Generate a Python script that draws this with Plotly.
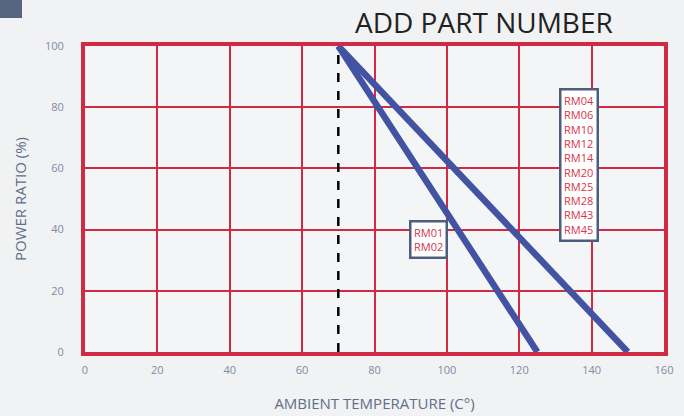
import plotly.graph_objects as go

# Data
temp_tick_labels = [0, 20, 40, 60, 80, 100, 120, 140, 160]
ratio_tick_labels = [0, 20, 40, 60, 80, 100]
curve_a_temp = [70, 125]
curve_a_ratio = [100, 0]
curve_b_temp = [70, 150]
curve_b_ratio = [100, 0]
rated_temp = [70, 70]
rated_ratio = [0, 100]
group_a_parts = ["RM01", "RM02"]
group_b_parts = ["RM04", "RM06", "RM10", "RM12", "RM14", "RM20", "RM25", "RM28", "RM43", "RM45"]

RED = "#d02a44"
BLUE = "#4253a3"
TICK = "#7d8ca3"

W, H = 684, 416
L, R, T, B = 85, 20, 46, 64
PW, PH = W - L - R, H - T - B

fig = go.Figure()
fig.add_trace(go.Scatter(x=rated_temp, y=rated_ratio, mode="lines",
                         line=dict(color="black", width=2.5, dash="dash"),
                         showlegend=False, hoverinfo="skip"))
fig.add_trace(go.Scatter(x=curve_a_temp, y=curve_a_ratio, mode="lines",
                         line=dict(color=BLUE, width=6.5), showlegend=False))
fig.add_trace(go.Scatter(x=curve_b_temp, y=curve_b_ratio, mode="lines",
                         line=dict(color=BLUE, width=6.5), showlegend=False))

box = dict(bgcolor="white", bordercolor="#4e5d7c", borderwidth=2.5,
           font=dict(color="#d8334a", size=11, family="Open Sans"), showarrow=False,
           align="center")
fig.add_annotation(x=94.8, y=36.7, text="<br>".join(group_a_parts), borderpad=2.5, **box)
fig.add_annotation(x=136.5, y=61.0, text="<br>".join(group_b_parts), borderpad=2.5, **box)

fig.add_annotation(x=(484 - L) / PW, y=1 + (T - 22) / PH, xref="paper", yref="paper",
                   text="ADD PART NUMBER", showarrow=False, xanchor="center", yanchor="middle",
                   font=dict(size=28, color="#222222", family="Open Sans"))

fig.add_shape(type="rect", xref="paper", yref="paper",
              x0=-L / PW, x1=(22 - L) / PW, y0=1 + T / PH, y1=1 + (T - 18) / PH,
              fillcolor="#56647f", line=dict(width=0), layer="below")

fig.update_layout(
    width=W, height=H,
    margin=dict(l=L, r=R, t=T, b=B),
    paper_bgcolor="#f1f2f4", plot_bgcolor="#f4f5f7",
    font=dict(family="Open Sans", color=TICK, size=11),
)
fig.update_xaxes(range=[0, 160], tickvals=temp_tick_labels, showgrid=True, automargin=False,
                 gridcolor=RED, gridwidth=2, showline=True, linecolor=RED, linewidth=4,
                 mirror=True, zeroline=False, ticks="", ticklabelstandoff=5,
                 title=dict(text="AMBIENT TEMPERATURE (C°)", font=dict(size=15, color="#5f6f88"), standoff=23),
                 tickfont=dict(size=11, color=TICK))
fig.update_yaxes(range=[0, 100], tickvals=ratio_tick_labels, showgrid=True, automargin=False,
                 gridcolor=RED, gridwidth=2, showline=True, linecolor=RED, linewidth=4,
                 mirror=True, zeroline=False, ticks="", ticklabelstandoff=15,
                 title=dict(text="POWER RATIO (%)", font=dict(size=15, color="#5f6f88"), standoff=16),
                 tickfont=dict(size=11, color=TICK))

fig.write_html("out.html", config={"displayModeBar": False},
               post_script="document.body.style.margin='0';document.body.style.overflow='hidden';")
